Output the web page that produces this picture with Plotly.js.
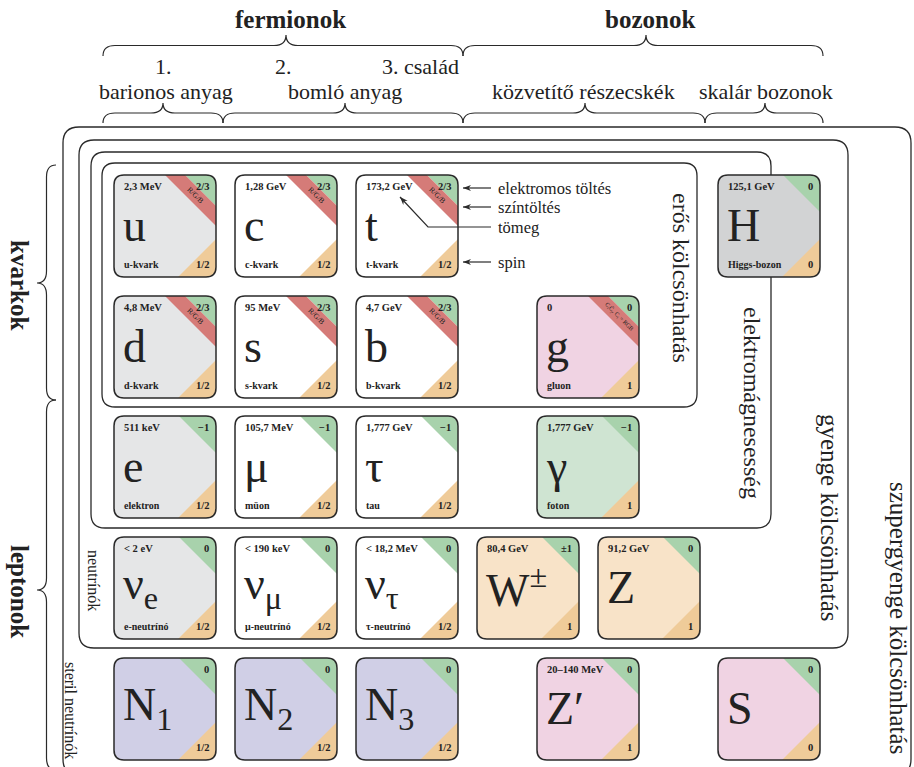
<!DOCTYPE html>
<html><head><meta charset="utf-8">
<script src="https://cdn.plot.ly/plotly-3.0.1.min.js"></script>
<style>html,body{margin:0;padding:0;background:#fff}#chart{width:914px;height:767px}</style>
</head><body><div id="chart"></div>
<script>
// ---------------- DATA ----------------
const symbols = ['u','c','t','d','s','b','e','μ','τ','ν<sub>e</sub>','ν<sub>μ</sub>','ν<sub>τ</sub>','g','γ','W<sup>±</sup>','Z','H','N<sub>1</sub>','N<sub>2</sub>','N<sub>3</sub>','Z′','S'];
const names = ['u-kvark','c-kvark','t-kvark','d-kvark','s-kvark','b-kvark','elektron','müon','tau','e-neutrínó','μ-neutrínó','τ-neutrínó','gluon','foton','','','Higgs-bozon','','','','',''];
const masses = ['2,3 MeV','1,28 GeV','173,2 GeV','4,8 MeV','95 MeV','4,7 GeV','511 keV','105,7 MeV','1,777 GeV','< 2 eV','< 190 keV','< 18,2 MeV','0','1,777 GeV','80,4 GeV','91,2 GeV','125,1 GeV','','','','20–140 MeV',''];
const charges = ['2/3','2/3','2/3','2/3','2/3','2/3','−1','−1','−1','0','0','0','0','−1','±1','0','0','0','0','0','0','0'];
const spins = ['1/2','1/2','1/2','1/2','1/2','1/2','1/2','1/2','1/2','1/2','1/2','1/2','1','1','1','1','0','1/2','1/2','1/2','1','0'];
const colorCharges = ['R/G/B','R/G/B','R/G/B','R/G/B','R/G/B','R/G/B','','','','','','','C<sub>i</sub>C̄<sub>j</sub>, C<sub>i</sub> = RGB','','','','','','','','',''];
const kinds = ['gen1','gen','gen','gen1','gen','gen','gen1','gen','gen','gen1','gen','gen','gluon','photon','weak','weak','higgs','sterile','sterile','sterile','dark','dark'];

const topGroups = ['fermionok','bozonok'];
const families = ['1.','2.','3. család'];
const subGroups = ['barionos anyag','bomló anyag','közvetítő részecskék','skalár bozonok'];
const sideGroups = ['kvarkok','leptonok'];
const interactions = ['erős kölcsönhatás','elektromágnesesség','gyenge kölcsönhatás','szupergyenge kölcsönhatás'];
const rowLabels = ['neutrínók','steril neutrínók'];
const legendLabels = ['elektromos töltés','színtöltés','tömeg','spin'];

// ---------------- LAYOUT / STYLE ----------------
const FONT = 'Liberation Serif, DejaVu Serif, serif';
const fills = {gen1:'#e5e6e7', gen:'#ffffff', gluon:'#f0d3e3', photon:'#cfe4d2', weak:'#f8e3c8', higgs:'#d2d3d4', sterile:'#d0cfe6', dark:'#f0d3e3'};
const GREEN='#a8d2ac', RED='#d57b78', ORANGE='#efcb99', EDGE='#2a2a2a', TXT='#222';
const C = 102, R = 10;
const colX = [114, 235, 356, 477, 598], rowY = [175, 296, 416, 537, 658];
const colG = 537, colH = 718;
const slots = [
 [colX[0],rowY[0]],[colX[1],rowY[0]],[colX[2],rowY[0]],
 [colX[0],rowY[1]],[colX[1],rowY[1]],[colX[2],rowY[1]],
 [colX[0],rowY[2]],[colX[1],rowY[2]],[colX[2],rowY[2]],
 [colX[0],rowY[3]],[colX[1],rowY[3]],[colX[2],rowY[3]],
 [colG,rowY[1]],[colG,rowY[2]],[colX[3],rowY[3]],[colX[4],rowY[3]],[colH,rowY[0]],
 [colX[0],rowY[4]],[colX[1],rowY[4]],[colX[2],rowY[4]],[colG,rowY[4]],[colH,rowY[4]]
];

function rr(x0,y0,x1,y1,r){
  return `M${x0+r},${y0} L${x1-r},${y0} Q${x1},${y0} ${x1},${y0+r} L${x1},${y1-r} Q${x1},${y1} ${x1-r},${y1} L${x0+r},${y1} Q${x0},${y1} ${x0},${y1-r} L${x0},${y0+r} Q${x0},${y0} ${x0+r},${y0} Z`;
}
function braceH(xa,xb,xm,yb,yt){ // opening downward, tip up
  const ym=(yb+yt)/2, q=12;
  return `M${xa},${yb} Q${xa},${ym} ${xa+q},${ym} L${xm-q},${ym} Q${xm},${ym} ${xm},${yt} Q${xm},${ym} ${xm+q},${ym} L${xb-q},${ym} Q${xb},${ym} ${xb},${yb}`;
}
function braceV(ya,yb,ym,xr,xl){ // opening right, tip left
  const xm=(xr+xl)/2, q=12;
  return `M${xr},${ya} Q${xm},${ya} ${xm},${ya+q} L${xm},${ym-q} Q${xm},${ym} ${xl},${ym} Q${xm},${ym} ${xm},${ym+q} L${xm},${yb-q} Q${xm},${yb} ${xr},${yb}`;
}
function arrowHead(xt,yt,xf,yf){
  const dx=xt-xf, dy=yt-yf, L=Math.hypot(dx,dy), ux=dx/L, uy=dy/L, px=-uy, py=ux;
  const len=8, w=3;
  const bx=xt-ux*len, by=yt-uy*len;
  const mx=xt-ux*len*0.7, my=yt-uy*len*0.7;
  return `M${xt},${yt} L${bx+px*w},${by+py*w} L${mx},${my} L${bx-px*w},${by-py*w} Z`;
}

const shapes = [], ann = [];
const line = {color:EDGE, width:1.3};
function path(p, opts){ shapes.push(Object.assign({type:'path', xref:'x', yref:'y', path:p, layer:'above'}, opts)); }
function txt(x,y,t,o){ ann.push(Object.assign({x:x,y:y,xref:'x',yref:'y',text:t,showarrow:false,font:{family:FONT,size:12,color:TXT}},o)); }
function f(size,bold){ return {family:FONT,size:size,color:TXT,weight:bold?'bold':'normal'}; }

// interaction boxes
path(rr(63,127,911,775,16), {line:line, fillcolor:'rgba(0,0,0,0)'});
path(rr(79,140,848,648,15), {line:line, fillcolor:'rgba(0,0,0,0)'});
path(rr(91,152,771,528,14), {line:line, fillcolor:'rgba(0,0,0,0)'});
path(rr(102,163,697,407,13), {line:line, fillcolor:'rgba(0,0,0,0)'});

// braces
const bl = {color:EDGE, width:1.2};
path(braceH(103,463,286,56,35), {line:bl});
path(braceH(463,823,646,56,35), {line:bl});
path(braceH(103,223,163,123,103), {line:bl});
path(braceH(223,463,345,123,103), {line:bl});
path(braceH(463,705,585,123,103), {line:bl});
path(braceH(705,823,765,123,103), {line:bl});
path(braceV(165,400,283,56,37), {line:bl});
path(braceV(400,770,590,56,37), {line:bl});

// cells
symbols.forEach((sym,i)=>{
  const [x0,y0]=slots[i], x1=x0+C, y1=y0+C;
  path(rr(x0,y0,x1,y1,R), {line:{width:0}, fillcolor:fills[kinds[i]]});
  const hasCC = colorCharges[i] !== '';
  const g = hasCC ? 31 : 37;
  path(`M${x1-g},${y0} L${x1-R},${y0} Q${x1},${y0} ${x1},${y0+R} L${x1},${y0+g} Z`, {line:{width:0}, fillcolor:GREEN});
  if(hasCC){
    path(`M${x1-51},${y0} L${x1-31},${y0} L${x1},${y0+31} L${x1},${y0+51} Z`, {line:{width:0}, fillcolor:RED});
    txt(x1-20, y0+20, colorCharges[i], {textangle:45, font:f(i===12?6:7.5,false)});
  }
  const o = 38;
  path(`M${x1},${y1-o} L${x1},${y1-R} Q${x1},${y1} ${x1-R},${y1} L${x1-o},${y1} Z`, {line:{width:0}, fillcolor:ORANGE});
  path(rr(x0,y0,x1,y1,R), {line:{color:EDGE,width:1.5}, fillcolor:'rgba(0,0,0,0)'});
  if(masses[i]) txt(x0+8, y0+11, masses[i], {xanchor:'left', font:f(10.5,true)});
  txt(x1-5, y0+11, charges[i], {xanchor:'right', font:f(10.5,true)});
  if(names[i]) txt(x0+8, y0+89, names[i], {xanchor:'left', font:f(10,true)});
  txt(x1-5, y0+89, spins[i], {xanchor:'right', font:f(10.5,true)});
  txt(x0+7, y0+50, sym, {xanchor:'left', font:f(46,false)});
});

// legend arrows at t cell
const legendY = [188, 207, 227, 262];
legendLabels.forEach((t,k)=> txt(496, legendY[k], t, {xanchor:'left', font:f(16.5,false)}));
[0,1,3].forEach(k=>{
  path(`M463,${legendY[k]} L491,${legendY[k]}`, {line:{color:EDGE,width:1.2}});
  path(arrowHead(463,legendY[k],491,legendY[k]), {line:{width:0}, fillcolor:EDGE});
});
path(`M491,227 L428,227 L400,197`, {line:{color:EDGE,width:1.2}});
path(arrowHead(400,197,428,227), {line:{width:0}, fillcolor:EDGE});

// group labels
txt(290, 19, topGroups[0], {font:f(25,true)});
txt(650, 19, topGroups[1], {font:f(25,true)});
txt(163, 66, families[0], {font:f(22,false)});
txt(283, 66, families[1], {font:f(22,false)});
txt(420, 66, families[2], {font:f(22,false)});
txt(166, 91, subGroups[0], {font:f(22,false)});
txt(345, 91, subGroups[1], {font:f(22,false)});
txt(583, 91, subGroups[2], {font:f(22,false)});
txt(766, 91, subGroups[3], {font:f(22,false)});
txt(20, 285, sideGroups[0], {textangle:90, font:f(25,true)});
txt(20, 591, sideGroups[1], {textangle:90, font:f(25,true)});
txt(681, 278, interactions[0], {textangle:90, font:f(24,false)});
txt(752, 403, interactions[1], {textangle:90, font:f(24,false)});
txt(830, 518, interactions[2], {textangle:90, font:f(25,false)});
txt(899, 618, interactions[3], {textangle:90, font:f(25,false)});
txt(94, 580, rowLabels[0], {textangle:90, font:f(16,false)});
txt(71, 710, rowLabels[1], {textangle:90, font:f(16,false)});

const layout = {
  width:914, height:767, margin:{l:0,r:0,t:0,b:0},
  paper_bgcolor:'#fff', plot_bgcolor:'#fff', showlegend:false,
  xaxis:{range:[0,914], visible:false, fixedrange:true},
  yaxis:{range:[767,0], visible:false, fixedrange:true},
  shapes:shapes, annotations:ann
};
Plotly.newPlot('chart', [{x:[0],y:[0],mode:'markers',marker:{opacity:0},hoverinfo:'skip'}], layout, {staticPlot:true, displayModeBar:false});
</script></body></html>
